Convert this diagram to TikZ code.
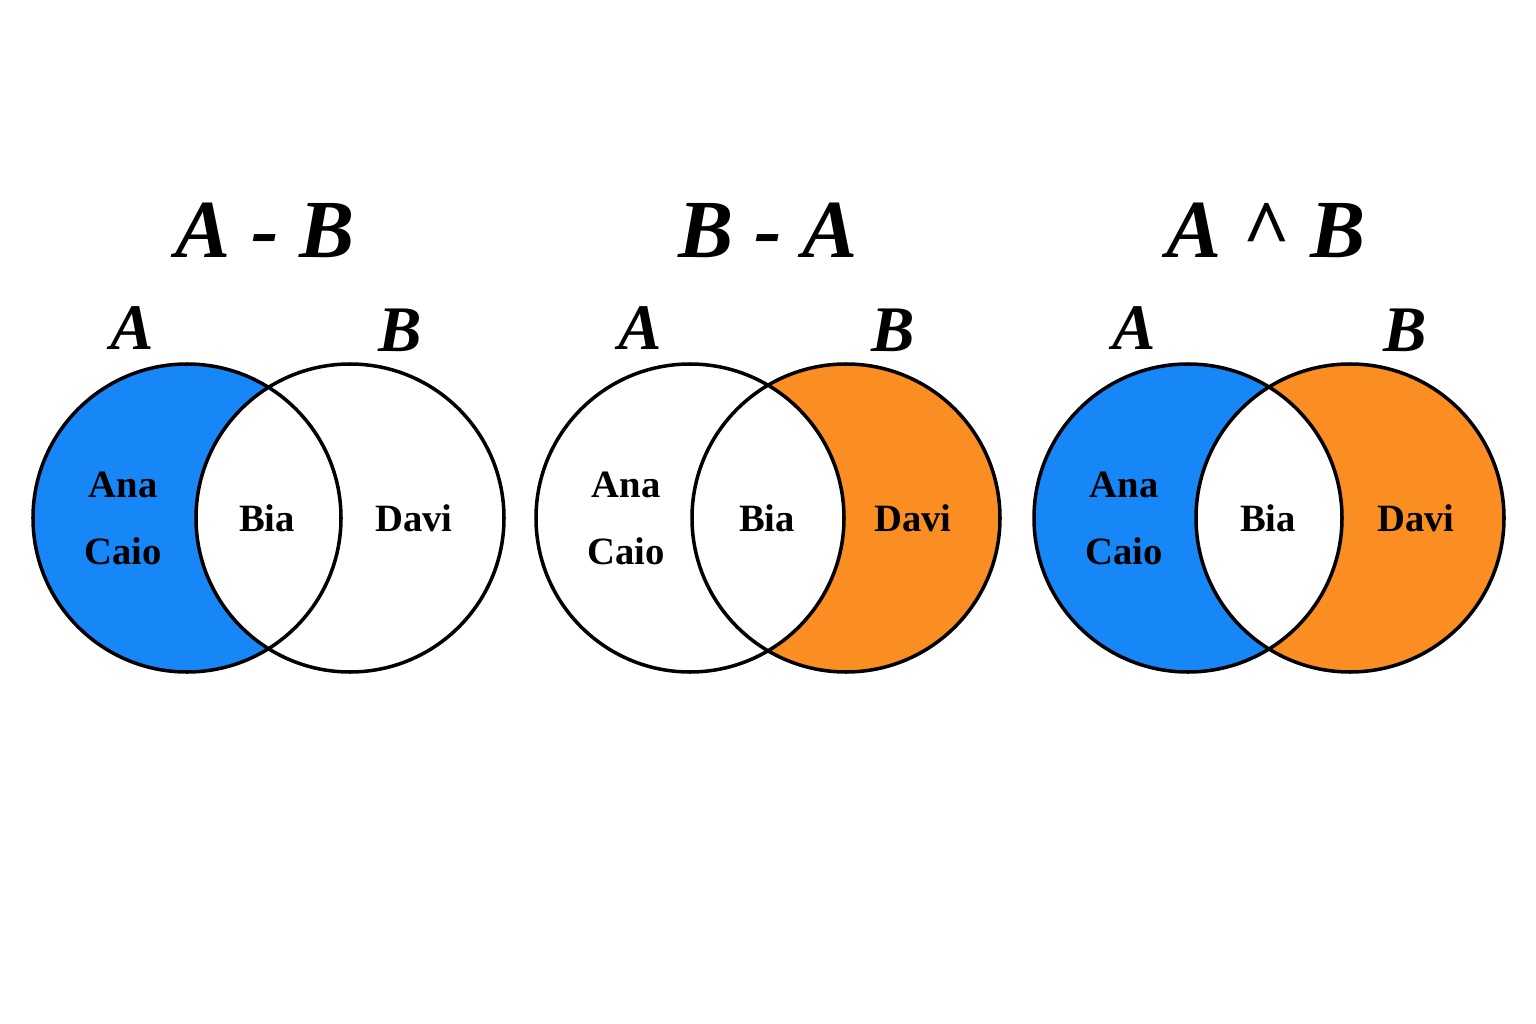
\documentclass[tikz,border=0pt]{standalone}
\usepackage{fontspec}
\setmainfont{Liberation Serif}
\definecolor{sblue}{HTML}{1787F7}
\definecolor{sorange}{HTML}{FA8E22}
\begin{document}
\begin{tikzpicture}[x=0.02cm,y=-0.02cm,
  ttl/.style={font=\fontsize{47}{54}\selectfont\bfseries\itshape},
  setl/.style={font=\fontsize{37}{44}\selectfont\bfseries\itshape},
  nm/.style={font=\fontsize{22}{26}\selectfont\bfseries},
  ring/.style={line width=2pt}]
\def\R{154}
\useasboundingbox (0,0) rectangle (1536,1024);
\fill[white] (0,0) rectangle (1536,1024);
% diagram 1: A - B
\fill[sblue] (187,518) circle[radius=\R];
\fill[white] (350,518) circle[radius=\R];
\draw[ring] (187,518) circle[radius=\R] (350,518) circle[radius=\R];
% diagram 2: B - A
\fill[sorange] (846,518) circle[radius=\R];
\fill[white] (690,518) circle[radius=\R];
\draw[ring] (690,518) circle[radius=\R] (846,518) circle[radius=\R];
% diagram 3
\fill[sblue] (1188,518) circle[radius=\R];
\fill[sorange] (1350,518) circle[radius=\R];
\begin{scope}
\clip (1188,518) circle[radius=\R];
\fill[white] (1350,518) circle[radius=\R];
\end{scope}
\draw[ring] (1188,518) circle[radius=\R] (1350,518) circle[radius=\R];
% titles
\node[ttl] (t1) at (265,230) {A - B};
\node[ttl] (t2) at (768,230) {B - A};
\node[ttl] (t3) at (1266,230) {A \^{} B};
\foreach \i/\xa/\xb in {1/132/400, 2/640/893, 3/1134/1405}{
  \node[setl] (a\i) at (\xa,328) {A};
  \node[setl] (b\i) at (\xb,330) {B};
}
\foreach \i/\xa/\xm/\xd in {1/123/267/414, 2/626/767/913, 3/1124/1268/1416}{
  \node[nm] (ana\i) at (\xa,485) {Ana};
  \node[nm] (caio\i) at (\xa,551) {Caio};
  \node[nm] (bia\i) at (\xm,518) {Bia};
  \node[nm] (davi\i) at (\xd,518) {Davi};
}
\end{tikzpicture}
\end{document}
